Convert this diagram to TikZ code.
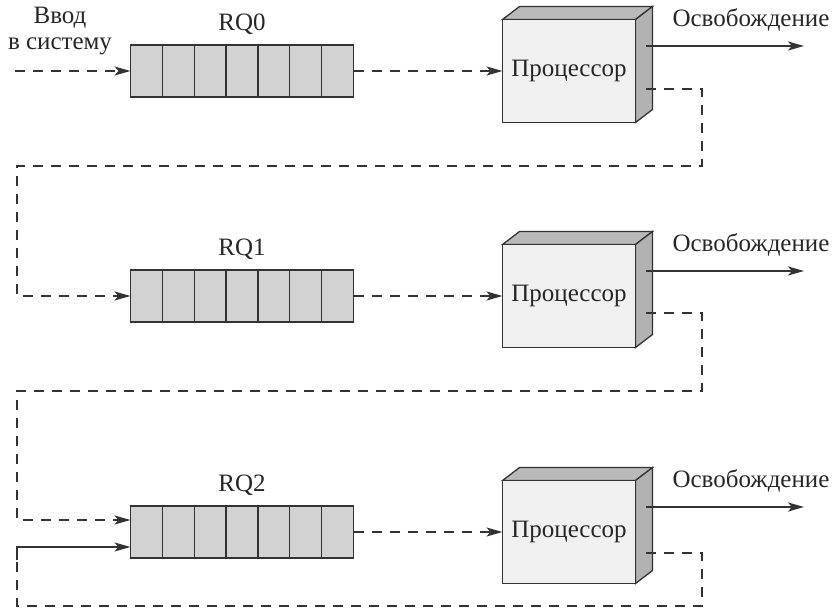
\documentclass[tikz,border=0pt]{standalone}
\usepackage{fontspec}
\setmainfont{Liberation Serif}
\usetikzlibrary{arrows.meta,calc}
\begin{document}
\begin{tikzpicture}[x=1pt,y=-1pt,
  lbl/.style={font=\fontsize{25}{29}\selectfont, text=black!85, inner sep=0},
  queue/.style={draw=black!80, line width=1.3pt, fill=gray!35, minimum width=223pt, minimum height=52pt, outer sep=0, inner sep=0},
  proc/.style={draw=black!80, line width=1.3pt, fill=gray!12, minimum width=133pt, minimum height=103pt, outer sep=0, inner sep=0, font=\fontsize{25}{29}\selectfont, text=black!85},
  topface/.style={draw=black!80, line width=1.3pt, fill=gray!55},
  sideface/.style={draw=black!80, line width=1.3pt, fill=gray!60},
  flow/.style={line width=2pt, draw=black!80, -{Stealth[length=16pt,width=9pt,inset=4pt]}},
  dflow/.style={flow, dash pattern=on 10pt off 8pt},
  dline/.style={line width=2pt, draw=black!80, dash pattern=on 10pt off 8pt},
]
\useasboundingbox (0,0) rectangle (837,614);

\foreach \i/\y in {0/71,1/296,2/532}{
  \node[queue] (q\i) at (242,\y) {};
  \foreach \k in {1,...,6}
    \draw[draw=black!80, line width=1.3pt] ($(q\i.north west)+(\k*31.857,0)$) -- ($(q\i.south west)+(\k*31.857,0)$);
  \node[lbl] (rq\i) at (242,\y-47) {RQ\i};
  \draw[topface] ($(569,\y)+(-66.5,-51.5)$) -- ++(17,-13) -- ++(133,0) -- ++(-17,13) -- cycle;
  \draw[sideface] ($(569,\y)+(66.5,-51.5)$) -- ++(17,-13) -- ++(0,103) -- ++(-17,13) -- cycle;
  \node[proc] (p\i) at (569,\y) {Процессор};
  \coordinate (rs\i) at (646,\y-25);
  \coordinate (re\i) at (804,\y-25);
  \node[lbl] (rl\i) at (751,\y-51) {Освобождение};
  \draw[flow] (rs\i) -- (re\i);
  \draw[dflow] (q\i.east) -- (p\i.west);
}

\node[lbl, align=center, font=\fontsize{25}{26}\selectfont] (inlbl) at (60,31) {Ввод\\в систему};
\coordinate (in) at (15,71);
\draw[dflow] (in) -- (q0.west);

% loop 1
\coordinate (o0) at (646,89);
\draw[dflow] (o0) -- (702,89) -- (702,166) -- (17,166) -- (17,296) -- (q1.west);
% loop 2
\coordinate (o1) at (646,313);
\draw[dflow] (o1) -- (702,313) -- (702,391) -- (17,391) -- (17,520) -- ($(q2.west)+(0,-12)$);
% loop 3
\coordinate (o2) at (646,553);
\coordinate (c3) at (17,560);
\draw[dline] (o2) -- (702,553) -- (702,606) -- (17,606) -- (c3);
\draw[flow] (c3) -- (17,547) -- ($(q2.west)+(0,15)$);
\end{tikzpicture}
\end{document}
